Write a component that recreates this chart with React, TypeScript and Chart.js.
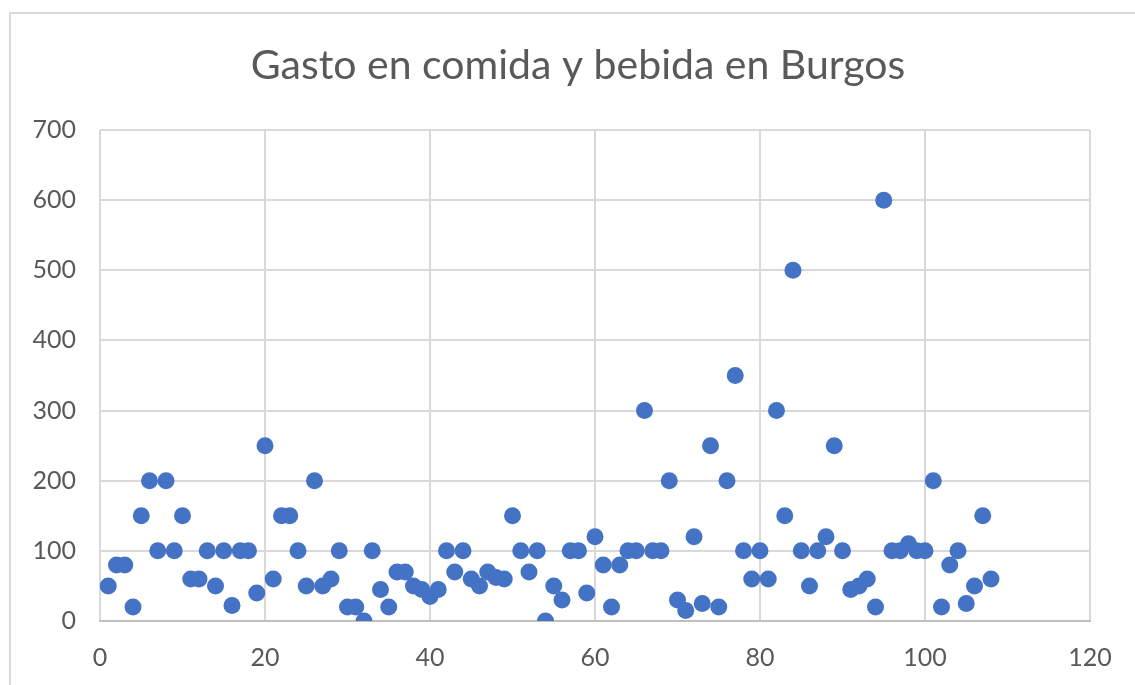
import React, { useEffect, useRef } from "react";
import { Chart, registerables } from "chart.js";

Chart.register(...registerables);

const TITLE = "Gasto en comida y bebida en Burgos";
const X_VALUES: number[] = Array.from({ length: 108 }, (_, i) => i + 1);
const Y_VALUES: number[] = [
  50, 80, 80, 20, 150, 200, 100, 200, 100, 150,
  60, 60, 100, 50, 100, 22, 100, 100, 40, 250,
  60, 150, 150, 100, 50, 200, 50, 60, 100, 20,
  20, 0, 100, 45, 20, 70, 70, 50, 45, 35,
  45, 100, 70, 100, 60, 50, 70, 62, 60, 150,
  100, 70, 100, 0, 50, 30, 100, 100, 40, 120,
  80, 20, 80, 100, 100, 300, 100, 100, 200, 30,
  15, 120, 25, 250, 20, 200, 350, 100, 60, 100,
  60, 300, 150, 500, 100, 50, 100, 120, 250, 100,
  45, 50, 60, 20, 600, 100, 100, 110, 100, 100,
  200, 20, 80, 100, 25, 50, 150, 60,
];
const X_MIN = 0, X_MAX = 120, X_STEP = 20;
const Y_MIN = 0, Y_MAX = 700, Y_STEP = 100;

const FONT = "Lato, 'Open Sans', sans-serif";
const TEXT = "#595959";
const GRID = "#d9d9d9";

const framePlugin = {
  id: "frame",
  beforeDraw(chart: any) {
    const ctx = chart.ctx;
    ctx.save();
    ctx.fillStyle = "#ffffff";
    ctx.fillRect(0, 0, chart.width, chart.height);
    ctx.strokeStyle = GRID;
    ctx.lineWidth = 2;
    ctx.strokeRect(10, 13, chart.width + 20, chart.height + 20);
    ctx.fillStyle = TEXT;
    ctx.font = `41px ${FONT}`;
    ctx.textAlign = "center";
    ctx.textBaseline = "middle";
    ctx.fillText(TITLE, 578, 66);
    ctx.restore();
  },
};

export default function App() {
  const ref = useRef<HTMLCanvasElement>(null);
  useEffect(() => {
    const data = X_VALUES.map((x, i) => ({ x, y: Y_VALUES[i] }));
    const chart = new Chart(ref.current!, {
      type: "scatter",
      data: {
        datasets: [
          {
            data,
            backgroundColor: "#4472C4",
            borderColor: "#4472C4",
            borderWidth: 0,
            pointRadius: 8.5,
          },
        ],
      },
      options: {
        animation: false,
        responsive: false,
        maintainAspectRatio: false,
        layout: { padding: { top: 130, right: 45, left: 0, bottom: 0 } },
        plugins: { legend: { display: false }, tooltip: { enabled: false }, title: { display: false } },
        scales: {
          x: {
            type: "linear",
            min: X_MIN,
            max: X_MAX,
            ticks: { stepSize: X_STEP, color: TEXT, font: { family: FONT, size: 25 }, padding: 22 },
            grid: { color: GRID, lineWidth: 2, drawTicks: false },
            border: { color: "#bfbfbf", width: 2 },
            afterFit: (s: any) => { s.height = 64; },
          },
          y: {
            min: Y_MIN,
            max: Y_MAX,
            ticks: { stepSize: Y_STEP, color: TEXT, font: { family: FONT, size: 25 }, padding: 24 },
            grid: { color: GRID, lineWidth: 2, drawTicks: false },
            border: { display: false },
            afterFit: (s: any) => { s.width = 100; },
          },
        },
      },
      plugins: [framePlugin],
    });
    return () => chart.destroy();
  }, []);
  return (
    <div style={{ position: "absolute", left: 0, top: 0, width: 1135, height: 685, background: "#fff" }}>
      <canvas ref={ref} width={1135} height={685} style={{ width: 1135, height: 685 }} />
    </div>
  );
}
